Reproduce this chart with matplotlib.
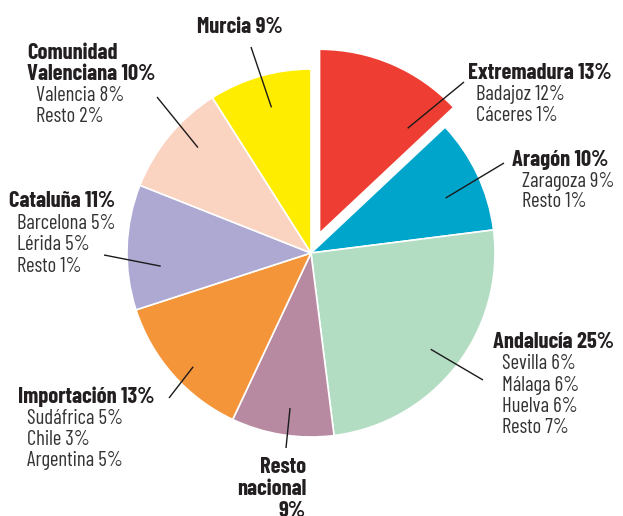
import matplotlib
matplotlib.use("Agg")
import matplotlib.pyplot as plt
import numpy as np

# ---- data ----
regions = ["Extremadura", "Aragón", "Andalucía", "Resto nacional", "Importación",
           "Cataluña", "Comunidad Valenciana", "Murcia"]
shares = [13, 10, 25, 9, 13, 11, 10, 9]
sub_names = [["Badajoz", "Cáceres"], ["Zaragoza", "Resto"],
             ["Sevilla", "Málaga", "Huelva", "Resto"], [],
             ["Sudáfrica", "Chile", "Argentina"], ["Barcelona", "Lérida", "Resto"],
             ["Valencia", "Resto"], []]
sub_values = [[12, 1], [9, 1], [6, 6, 6, 7], [], [5, 3, 5], [5, 5, 1], [8, 2], []]
colors = ["#EE3D32", "#00A5CB", "#B3DDC3", "#B78AA2", "#F5953A", "#ADA9D3", "#FAD3C1", "#FFED00"]

# ---- layout (pixel coords, y from top) ----
W, H = 623, 516
CX, CY, R = 311, 253, 184
explode_px = [21.5, 0, 0, 0, 0, 0, 0, 0]
title_lines = [["Extremadura 13%"], ["Aragón 10%"], ["Andalucía 25%"],
               ["Resto", "nacional", "9%"], ["Importación 13%"], ["Cataluña 11%"],
               ["Comunidad", "Valenciana 10%"], ["Murcia 9%"]]
# (x_title, x_sub, first baseline y, line step)
label_pos = [(468, 476, 79, 21), (512, 522, 166, 20.7), (493, 502, 348, 21.3),
             (306, 306, 473, 22), (18, 27, 403, 21), (9, 17, 207, 21.7),
             (27, 36, 59, 21), (197, 197, 33, 21)]
label_ha = ["left", "left", "left", "right", "left", "left", "left", "left"]
leader_out = [(464, 82), (504, 163), (483, 380), (286, 448), (169, 398),
              (104, 255), (157, 97), (251, 47)]
leader_dang = [-16.6, -3, -1, 1.3, 2.6, 6.8, -3.4, -1]
leader_r = [0.745, 0.79, 0.835, 0.85, 0.89, 0.82, 0.84, 0.82]

FAM = ["Barlow Condensed", "DejaVu Sans"]
BOLD_C = "#231F20"
REG_C = "#333333"

fig = plt.figure(figsize=(W / 100, H / 100), dpi=100)
ax = fig.add_axes([0, 0, 1, 1])
ax.set_xlim(0, W)
ax.set_ylim(0, H)
ax.set_aspect("equal")
ax.axis("off")

# calibrate font sizes to reference text widths
renderer = fig.canvas.get_renderer()
def width_of(s, **kw):
    t = fig.text(0, 0, s, fontsize=20, family=FAM, **kw)
    w = t.get_window_extent(renderer).width
    t.remove()
    return w
FS_B = 20 * 144 / width_of("Extremadura 13%", fontweight="bold")
FS_R = 20 * 89 / width_of("Badajoz 12%", fontweight="normal")

def Y(y):
    return H - y

wedges, _ = ax.pie(shares, colors=colors, startangle=90, counterclock=False,
                   radius=R, center=(CX, Y(CY)), explode=explode_px,
                   wedgeprops=dict(edgecolor="white", linewidth=1.2))
ax.set_xlim(0, W)
ax.set_ylim(0, H)

for i, w in enumerate(wedges):
    mid = 0.5 * (w.theta1 + w.theta2) + leader_dang[i]
    cx, cy = w.center
    xi = cx + leader_r[i] * R * np.cos(np.radians(mid))
    yi = cy + leader_r[i] * R * np.sin(np.radians(mid))
    xo, yo = leader_out[i]
    ax.plot([xi, xo], [yi, Y(yo)], color="#1a1a1a", lw=1.0, solid_capstyle="butt")

    xt, xs, y0, step = label_pos[i]
    y = y0
    for t in title_lines[i]:
        ax.text(xt, Y(y), t, ha=label_ha[i], va="baseline", fontsize=FS_B,
                fontweight="bold", color=BOLD_C, family=FAM)
        y += step
    for n, v in zip(sub_names[i], sub_values[i]):
        ax.text(xs, Y(y), f"{n} {v}%", ha=label_ha[i], va="baseline", fontsize=FS_R,
                color=REG_C, family=FAM)
        y += step

fig.savefig("out.png", dpi=100)
